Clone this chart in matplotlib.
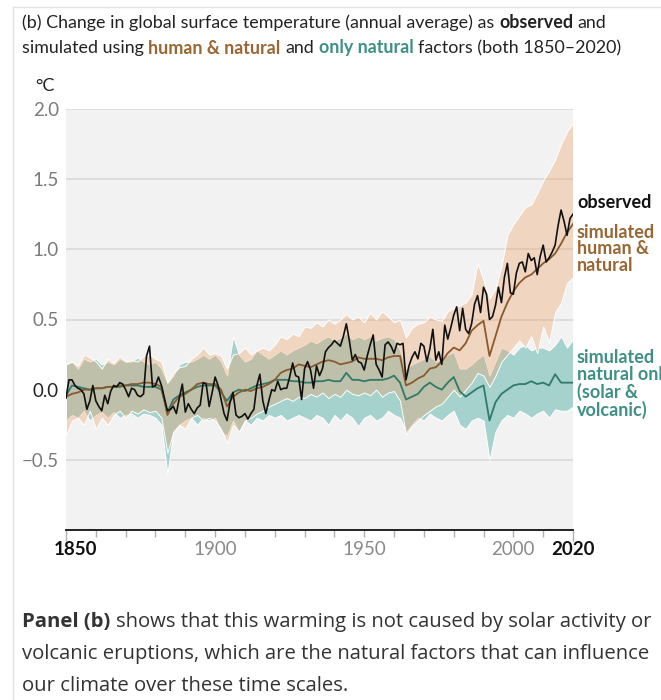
import numpy as np
import matplotlib
matplotlib.use("Agg")
import matplotlib.pyplot as plt
import matplotlib.transforms as mtransforms
from matplotlib.lines import Line2D

# observed annual values, 1850-2020 (deg C vs 1850-1900)
obs_years = np.arange(1850, 2021)
observed = [
    -0.06, 0.07, 0.07, 0.03, 0.01, 0.0, -0.03, -0.14, -0.08, 0.03,
    -0.08, -0.12, -0.15, -0.04, -0.1, -0.01, 0.03, 0.02, 0.05, 0.04,
    0.0, -0.05, 0.01, 0.0, -0.04, -0.05, -0.03, 0.24, 0.31, 0.02,
    0.03, 0.09, 0.03, -0.06, -0.15, -0.14, -0.12, -0.17, -0.06, 0.04,
    -0.16, -0.1, -0.14, -0.17, -0.13, -0.11, 0.05, 0.04, -0.12, -0.02,
    0.09, 0.03, -0.07, -0.17, -0.22, -0.09, -0.02, -0.18, -0.2, -0.19,
    -0.17, -0.21, -0.17, -0.14, 0.03, 0.11, -0.08, -0.17, -0.08, 0.0,
    -0.01, 0.06, 0.0, 0.01, 0.01, 0.09, 0.19, 0.1, 0.09, -0.07,
    0.15, 0.2, 0.14, 0.01, 0.17, 0.1, 0.15, 0.27, 0.3, 0.32,
    0.35, 0.33, 0.31, 0.38, 0.47, 0.35, 0.21, 0.25, 0.2, 0.19,
    0.14, 0.24, 0.32, 0.39, 0.18, 0.14, 0.09, 0.32, 0.34, 0.31,
    0.26, 0.33, 0.32, 0.33, 0.07, 0.17, 0.23, 0.27, 0.22, 0.33,
    0.31, 0.2, 0.29, 0.43, 0.21, 0.27, 0.18, 0.46, 0.36, 0.44,
    0.53, 0.59, 0.42, 0.58, 0.43, 0.4, 0.47, 0.61, 0.67, 0.55,
    0.73, 0.68, 0.5, 0.52, 0.6, 0.73, 0.62, 0.8, 0.9, 0.69,
    0.68, 0.83, 0.9, 0.91, 0.84, 0.97, 0.92, 0.94, 0.82, 0.95,
    1.03, 0.91, 0.94, 0.98, 1.03, 1.17, 1.28, 1.2, 1.1, 1.22,
    1.25,
]

# simulations, every second year 1850-2020
sim_years = np.arange(1850, 2021, 2)
hn_mean = [
    -0.05, -0.03, -0.02, 0.0, 0.0, 0.01, 0.01, 0.02, 0.02, 0.03,
    0.03, 0.04, 0.04, 0.05, 0.05, 0.04, 0.02, -0.18, -0.1, -0.05,
    -0.03, 0.0, 0.04, 0.05, 0.04, 0.04, 0.0, -0.12, -0.05, -0.02,
    0.0, -0.01, 0.01, 0.02, 0.04, 0.07, 0.12, 0.14, 0.15, 0.18,
    0.17, 0.16, 0.18, 0.2, 0.21, 0.2, 0.18, 0.19, 0.2, 0.23,
    0.22, 0.22, 0.22, 0.21, 0.23, 0.24, 0.24, 0.03, 0.05, 0.08,
    0.1, 0.15, 0.16, 0.2, 0.26, 0.3, 0.28, 0.33, 0.42, 0.46,
    0.49, 0.24, 0.38, 0.52, 0.62, 0.7, 0.76, 0.8, 0.82, 0.86,
    0.9, 0.93, 0.97, 1.04, 1.12, 1.18,
]
hn_lo = [
    -0.33, -0.22, -0.2, -0.25, -0.15, -0.28, -0.2, -0.25, -0.18, -0.15,
    -0.2, -0.15, -0.17, -0.14, -0.16, -0.15, -0.2, -0.45, -0.3, -0.25,
    -0.28, -0.2, -0.18, -0.22, -0.2, -0.22, -0.28, -0.38, -0.25, -0.3,
    -0.22, -0.2, -0.17, -0.15, -0.12, -0.1, -0.08, -0.06, -0.08, -0.05,
    -0.06, -0.03, -0.05, -0.02, -0.06, -0.03, -0.05, 0.0, -0.03, -0.04,
    -0.02, -0.04, 0.0, -0.05, -0.02, -0.01, -0.08, -0.32, -0.26, -0.22,
    -0.18, -0.15, -0.12, -0.1, -0.05, 0.0, -0.05, 0.0, 0.05, 0.12,
    0.1, 0.02, 0.1, 0.2, 0.25, 0.3, 0.35, 0.3, 0.38, 0.26,
    0.45, 0.34, 0.55, 0.62, 0.76, 0.8,
]
hn_hi = [
    0.18, 0.2, 0.17, 0.25, 0.23, 0.2, 0.15, 0.22, 0.19, 0.24,
    0.2, 0.21, 0.2, 0.24, 0.25, 0.22, 0.2, 0.05, 0.12, 0.16,
    0.17, 0.22, 0.25, 0.3, 0.25, 0.26, 0.24, 0.15, 0.25, 0.26,
    0.3, 0.25, 0.28, 0.3, 0.28, 0.32, 0.38, 0.36, 0.4, 0.38,
    0.45, 0.44, 0.48, 0.45, 0.5, 0.47, 0.5, 0.54, 0.5, 0.52,
    0.48, 0.55, 0.5, 0.56, 0.52, 0.48, 0.5, 0.37, 0.44, 0.47,
    0.48, 0.52, 0.5, 0.49, 0.56, 0.58, 0.6, 0.62, 0.68, 0.9,
    0.78, 0.65, 0.72, 0.88, 1.1, 1.18, 1.24, 1.3, 1.32, 1.4,
    1.49, 1.56, 1.64, 1.75, 1.84, 1.9,
]
nat_mean = [
    -0.04, 0.03, 0.02, 0.01, 0.0, 0.01, 0.01, 0.02, 0.02, 0.02,
    0.03, 0.03, 0.03, 0.02, 0.02, 0.02, 0.0, -0.16, -0.07, -0.04,
    -0.02, 0.0, 0.02, 0.03, 0.03, 0.03, -0.02, -0.08, -0.02, 0.0,
    -0.01, 0.01, 0.03, 0.04, 0.05, 0.07, 0.07, 0.07, 0.06, 0.06,
    0.05, 0.05, 0.06, 0.06, 0.07, 0.06, 0.06, 0.12, 0.07, 0.07,
    0.06, 0.07, 0.07, 0.07, 0.08, 0.1, 0.05, -0.07, -0.05, -0.03,
    0.02, 0.05, 0.02, 0.0, 0.05, 0.09, -0.01, -0.05, -0.02, 0.01,
    0.03, -0.22, -0.09, -0.03, 0.0, 0.03, 0.04, 0.04, 0.06, 0.04,
    0.05, 0.03, 0.11, 0.05, 0.05, 0.05,
]
nat_lo = [
    -0.22, -0.18, -0.2, -0.15, -0.22, -0.18, -0.16, -0.2, -0.16, -0.2,
    -0.18, -0.17, -0.2, -0.17, -0.18, -0.2, -0.25, -0.6, -0.3, -0.25,
    -0.22, -0.2, -0.25, -0.2, -0.22, -0.2, -0.3, -0.33, -0.22, -0.3,
    -0.22, -0.25, -0.2, -0.22, -0.18, -0.2, -0.18, -0.22, -0.2, -0.18,
    -0.2, -0.22, -0.18, -0.2, -0.25, -0.18, -0.22, -0.17, -0.2, -0.26,
    -0.2, -0.18, -0.22, -0.2, -0.15, -0.18, -0.2, -0.3, -0.25, -0.2,
    -0.22, -0.17, -0.2, -0.22, -0.18, -0.15, -0.25, -0.28, -0.22, -0.2,
    -0.22, -0.5, -0.3, -0.22, -0.18, -0.2, -0.15, -0.17, -0.2, -0.17,
    -0.15, -0.2, -0.14, -0.15, -0.15, -0.12,
]
nat_hi = [
    0.18, 0.2, 0.15, 0.22, 0.2, 0.22, 0.18, 0.2, 0.18, 0.22,
    0.2, 0.2, 0.23, 0.2, 0.18, 0.2, 0.15, 0.05, 0.1, 0.18,
    0.2, 0.2, 0.22, 0.25, 0.22, 0.25, 0.2, 0.1, 0.38, 0.25,
    0.2, 0.22, 0.28, 0.25, 0.22, 0.25, 0.28, 0.25, 0.28, 0.3,
    0.32, 0.35, 0.33, 0.36, 0.38, 0.35, 0.37, 0.4, 0.36, 0.38,
    0.36, 0.38, 0.35, 0.37, 0.38, 0.36, 0.28, 0.15, 0.18, 0.2,
    0.22, 0.24, 0.2, 0.22, 0.25, 0.27, 0.15, 0.15, 0.18, 0.22,
    0.25, 0.1, 0.2, 0.3, 0.28, 0.25, 0.3, 0.32, 0.28, 0.3,
    0.3, 0.28, 0.32, 0.38, 0.3, 0.36,
]

y_ticks = [-0.5, 0.0, 0.5, 1.0, 1.5, 2.0]
y_labels = ["\u22120.5", "0.0", "0.5", "1.0", "1.5", "2.0"]
x_ticks = list(range(1850, 2021, 10))
x_labels = {1850: "1850", 1900: "1900", 1950: "1950", 2000: "2000", 2020: "2020"}

brown = "#9a6632"
brown_line = "#8a5a2c"
teal = "#3e8f86"
teal_line = "#2f7a6c"
W, H = 661, 700

fig = plt.figure(figsize=(W / 100, H / 100), dpi=100)
ax = fig.add_axes([66 / W, 1 - 530 / H, (573 - 66) / W, (530 - 109) / H])
ax.set_facecolor("#f2f2f2")
ax.set_xlim(1850, 2020)
ax.set_ylim(-1.0, 2.0)

ax.fill_between(sim_years, nat_lo, nat_hi, facecolor="#a6d2cd", edgecolor="white", lw=0.7, zorder=2)
ax.fill_between(sim_years, hn_lo, hn_hi, facecolor=(0.93, 0.63, 0.40, 0.35), edgecolor="white", lw=0.7, zorder=3)
ax.plot(sim_years, nat_mean, color=teal_line, lw=1.3, zorder=4)
ax.plot(sim_years, hn_mean, color=brown_line, lw=1.3, zorder=5)
ax.plot(obs_years, observed, color="#111111", lw=1.2, zorder=6)

ax.set_yticks(y_ticks)
ax.set_yticklabels(y_labels, family="Lato", fontsize=13.5)
ax.yaxis.grid(True, color="#d9d9d9", lw=1.2)
ax.set_axisbelow(True)
ax.tick_params(axis="y", length=0, pad=5, labelcolor="#7a7a7a")
for lab in ax.get_yticklabels():
    if lab.get_text() == "0.0":
        lab.set_color("#222222")

for s in ["top", "right", "left"]:
    ax.spines[s].set_visible(False)
ax.spines["bottom"].set_color("#111111")
ax.spines["bottom"].set_linewidth(1.3)

ax.set_xticks(x_ticks)
ax.set_xticklabels([x_labels.get(t, "") for t in x_ticks], family="Lato", fontsize=13.5)
ax.tick_params(axis="x", length=5, width=1, color="#b0b0b0", pad=3, labelcolor="#8a8a8a")
for tk, t in zip(ax.xaxis.get_major_ticks(), x_ticks):
    if t in (1850, 2020):
        tk.tick1line.set_color("#111111")
        tk.tick1line.set_markersize(8)
        tk.label1.set_color("#111111")
        tk.label1.set_fontweight("bold")
    if t == 1850:
        tk.label1.set_transform(tk.label1.get_transform() +
                                mtransforms.ScaledTranslation(9 / 100, 0, fig.dpi_scale_trans))

ident = mtransforms.IdentityTransform()
renderer = fig.canvas.get_renderer()


def rich_line(x, y, parts, size, family, color):
    sp_t = fig.text(0, 0, "a a", fontsize=size, family=family)
    nsp_t = fig.text(0, 0, "aa", fontsize=size, family=family)
    sp = sp_t.get_window_extent(renderer).width - nsp_t.get_window_extent(renderer).width
    sp_t.remove()
    nsp_t.remove()
    for s, c, w in parts:
        lead = len(s) - len(s.lstrip(" "))
        trail = len(s) - len(s.rstrip(" "))
        x += lead * sp
        t = fig.text(x, H - y, s.strip(" "), transform=ident, fontsize=size, family=family,
                     color=c or color, fontweight=w, va="center", ha="left")
        x += t.get_window_extent(renderer).width + trail * sp


dark = "#222222"
rich_line(22, 23, [("(b) Change in global surface temperature (annual average) as ", None, "normal"),
                   ("observed", None, "bold"), (" and", None, "normal")], 12.9, "Lato", dark)
rich_line(22, 48, [("simulated using ", None, "normal"), ("human & natural", brown, "bold"),
                   (" and ", None, "normal"), ("only natural", teal, "bold"),
                   (" factors (both 1850\u20132020)", None, "normal")], 12.9, "Lato", dark)

fig.text(35 / W, 1 - 86 / H, "\u00b0C", family="Lato", fontsize=13, color=dark, va="center")

# right-hand labels
fig.text(577 / W, 1 - 203 / H, "observed", family="Lato", fontsize=13, fontweight="bold",
         color="#111111", va="center")
fig.text(577 / W, 1 - 249 / H, "simulated\nhuman &\nnatural", family="Lato", fontsize=13,
         fontweight="bold", color=brown, va="center", linespacing=0.98)
fig.text(577 / W, 1 - 384 / H, "simulated\nnatural only\n(solar &\nvolcanic)", family="Lato",
         fontsize=13, fontweight="bold", color=teal, va="center", linespacing=0.98)

# paragraph below
para = "#333333"
rich_line(22, 622, [("Panel (b)", None, "bold"),
                    (" shows that this warming is not caused by solar activity or", None, "normal")],
          14.6, "Open Sans", para)
rich_line(22, 654, [("volcanic eruptions, which are the natural factors that can influence", None, "normal")],
          14.6, "Open Sans", para)
rich_line(22, 686, [("our climate over these time scales.", None, "normal")], 14.6, "Open Sans", para)

# card frame
fig.add_artist(Line2D([13 / W, 13 / W], [0, 1 - 7 / H], color="#e2e2e2", lw=1, transform=fig.transFigure))
fig.add_artist(Line2D([13 / W, 1], [1 - 7 / H, 1 - 7 / H], color="#e2e2e2", lw=1, transform=fig.transFigure))

fig.savefig("out.png", dpi=100)
